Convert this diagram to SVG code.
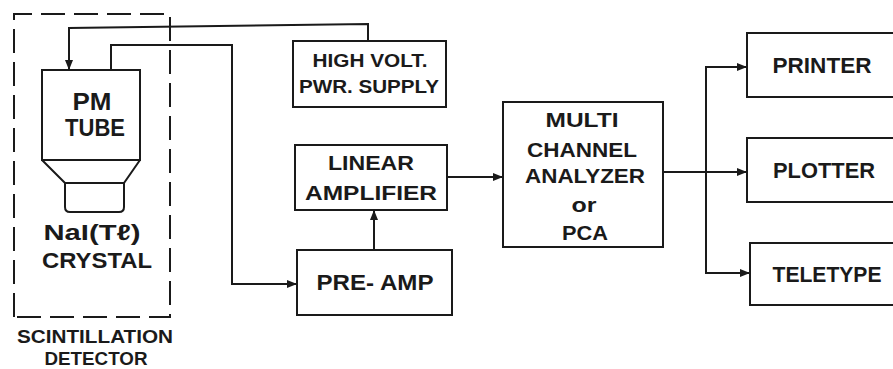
<svg xmlns="http://www.w3.org/2000/svg" width="893" height="369" viewBox="0 0 893 369">
<defs>
<marker id="arr" viewBox="0 0 10 8" refX="10" refY="4" markerWidth="10" markerHeight="8" markerUnits="userSpaceOnUse" orient="auto">
<path d="M0,0 L10,4 L0,8 Z" fill="#1a1a1a"/>
</marker>
</defs>
<style>
.box{fill:none;stroke:#1a1a1a;stroke-width:2}
.ln{fill:none;stroke:#1a1a1a;stroke-width:2}
.dash{fill:none;stroke:#1a1a1a;stroke-width:2;stroke-dasharray:24 9}
text{font-family:"Liberation Sans",Arial,sans-serif;font-weight:bold;fill:#1a1a1a;text-anchor:middle}
.t22{font-size:22px}
.t21{font-size:21px}
.t19{font-size:19px}
</style>
<rect width="893" height="369" fill="#ffffff"/>

<g id="scintillation-detector">
<path class="dash" d="M14,317 V14 H170 V317 Z"/>
<text class="t19" x="95" y="343" textLength="156" lengthAdjust="spacingAndGlyphs">SCINTILLATION</text>
<text class="t19" x="96" y="365" textLength="103" lengthAdjust="spacingAndGlyphs">DETECTOR</text>
</g>

<g id="pm-tube">
<path class="box" d="M42,70 H140 V160 H42 Z"/>
<path class="box" d="M42,160 L65,183 H124 L140,160"/>
<path class="box" d="M65,183 V207 Q65,212 70,212 H119 Q124,212 124,207 V183"/>
<text x="92" y="110" textLength="39" lengthAdjust="spacingAndGlyphs" style="font-size:24px">PM</text>
<text x="95" y="136" textLength="60" lengthAdjust="spacingAndGlyphs" style="font-size:24px">TUBE</text>
<text class="t22" x="92" y="240" textLength="97" lengthAdjust="spacingAndGlyphs">NaI(Tℓ)</text>
<text class="t22" x="97" y="268" textLength="110" lengthAdjust="spacingAndGlyphs">CRYSTAL</text>
</g>

<g id="hv-supply">
<rect class="box" x="293" y="41" width="153" height="66"/>
<text class="t19" x="370" y="67" textLength="115" lengthAdjust="spacingAndGlyphs">HIGH VOLT.</text>
<text class="t19" x="369" y="93" textLength="140" lengthAdjust="spacingAndGlyphs">PWR. SUPPLY</text>
</g>

<g id="linear-amplifier">
<rect class="box" x="295" y="145" width="152" height="65"/>
<text class="t21" x="371" y="170" textLength="86" lengthAdjust="spacingAndGlyphs">LINEAR</text>
<text class="t21" x="371" y="200" textLength="132" lengthAdjust="spacingAndGlyphs">AMPLIFIER</text>
</g>

<g id="pre-amp">
<rect class="box" x="297" y="250" width="155" height="65"/>
<text class="t22" x="375" y="290" textLength="117" lengthAdjust="spacingAndGlyphs">PRE- AMP</text>
</g>

<g id="mca">
<rect class="box" x="503" y="102" width="160" height="145"/>
<text class="t21" x="582" y="127" textLength="73" lengthAdjust="spacingAndGlyphs">MULTI</text>
<text class="t21" x="582" y="157" textLength="110" lengthAdjust="spacingAndGlyphs">CHANNEL</text>
<text class="t21" x="585" y="183" textLength="120" lengthAdjust="spacingAndGlyphs">ANALYZER</text>
<text class="t21" x="584" y="212" textLength="25" lengthAdjust="spacingAndGlyphs">or</text>
<text class="t21" x="585" y="240" textLength="46" lengthAdjust="spacingAndGlyphs">PCA</text>
</g>

<g id="printer">
<path class="box" d="M900,33 H747 V97 H900"/>
<text class="t22" x="822" y="73" textLength="99" lengthAdjust="spacingAndGlyphs">PRINTER</text>
</g>

<g id="plotter">
<path class="box" d="M900,138 H747 V202 H900"/>
<text class="t22" x="824" y="178" textLength="102" lengthAdjust="spacingAndGlyphs">PLOTTER</text>
</g>

<g id="teletype">
<path class="box" d="M900,243 H750 V305 H900"/>
<text class="t22" x="827" y="282" textLength="109" lengthAdjust="spacingAndGlyphs">TELETYPE</text>
</g>

<g id="connectors">
<path class="ln" d="M368,41 V24 L69,28 V70" marker-end="url(#arr)"/>
<path class="ln" d="M111,70 V45 H232 V284 H297" marker-end="url(#arr)"/>
<path class="ln" d="M374,250 V210" marker-end="url(#arr)"/>
<path class="ln" d="M447,177 H503" marker-end="url(#arr)"/>
<path class="ln" d="M663,172 H747" marker-end="url(#arr)"/>
<path class="ln" d="M706,172 V67 H747" marker-end="url(#arr)"/>
<path class="ln" d="M706,172 V273 H750" marker-end="url(#arr)"/>
</g>
</svg>
